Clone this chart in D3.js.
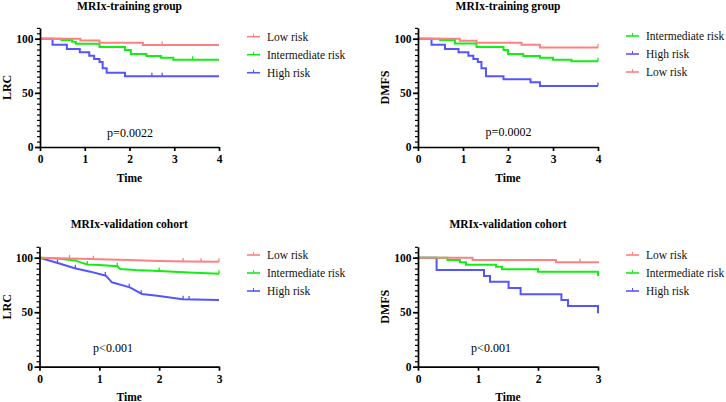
<!DOCTYPE html>
<html>
<head>
<meta charset="utf-8">
<script src="https://cdn.jsdelivr.net/npm/d3@7"></script>
<style>
  html, body { margin: 0; padding: 0; background: #fff; }
  svg { display: block; }
</style>
</head>
<body>
<div id="chart"></div>
<script>
// ---- data: [time, percent] step points ----
const lrcTrainLow  = [[0,100],[0.9,98.3],[1.33,96.3],[2.3,94.3],[4,94.3]];
const lrcTrainMid  = [[0,100],[0.48,98.8],[0.72,97.3],[0.8,95.4],[1.33,92.3],[1.9,89.6],[2.03,85.9],[2.38,84],[2.7,82.5],[2.98,80.6],[4,80.6]];
const lrcTrainHigh = [[0,100],[0.28,94.5],[0.6,90.5],[0.89,87.4],[1.1,84.3],[1.21,81.2],[1.33,78.5],[1.4,72.7],[1.49,68.6],[1.9,65.3],[4,65.3]];
const lrcTrainCens = { low: [2.73], mid: [3.41], high: [2.5, 2.73] };

const dmfsTrainLow  = [[0,100],[0.93,98.1],[1.3,96.3],[2.3,94.5],[2.71,92],[4,92]];
const dmfsTrainMid  = [[0,100],[0.49,98.8],[0.82,95.5],[1.3,92.3],[1.9,89.5],[2.0,86],[2.34,84],[2.71,82.5],[3.0,80.6],[3.41,79.1],[4,79.1]];
const dmfsTrainHigh = [[0,100],[0.3,94.5],[0.6,90.5],[0.9,87.4],[1.12,84.3],[1.23,81.2],[1.33,78.5],[1.41,72.7],[1.51,65.3],[1.9,62.5],[2.5,59.7],[2.71,56.3],[4,56.3]];
const dmfsTrainCens = { low: [4], mid: [4], high: [4] };

const lrcValLow  = [[0,100],[0.5,99.3],[1,98.5],[1.5,97.8],[2,97],[2.5,96.5],[3,96.2]];
const lrcValMid  = [[0,100],[0.3,99.3],[0.6,97.5],[0.7,95.5],[0.8,93.8],[1.0,93.2],[1.3,92.2],[1.35,89.6],[1.6,88.7],[2.0,87.8],[2.5,86.4],[3,85.2]];
const lrcValHigh = [[0,100],[0.29,95.4],[0.59,90.3],[0.85,87.2],[1.11,83.5],[1.21,77.4],[1.51,72.8],[1.71,66.7],[2.0,64.9],[2.39,61.8],[3,61.2]];
const lrcValCens = { low: [0.5, 0.9, 2.4, 2.7, 3], mid: [0.8, 1.3, 2.0, 3], high: [0.3, 0.6, 1.1, 1.5, 1.7, 2.4, 2.5] };

const dmfsValLow  = [[0,100],[0.91,97.9],[2.3,95.8],[3,94.9]];
const dmfsValMid  = [[0,100],[0.49,97.9],[0.7,95.8],[0.8,93.6],[1.3,91.7],[1.4,89.3],[2.0,87.2],[3,83.2]];
const dmfsValHigh = [[0,100],[0.31,88.7],[1.1,83.2],[1.2,78],[1.51,72.2],[1.71,66.4],[2.39,61.2],[2.5,55.7],[3,49]];
const dmfsValCens = { low: [2.7], mid: [], high: [] };

const groupNames = { low: "Low risk", mid: "Intermediate risk", high: "High risk" };
const yTicks = [0, 50, 100];
const titles = ["MRIx-training group", "MRIx-training group", "MRIx-validation cohort", "MRIx-validation cohort"];
const yLabels = ["LRC", "DMFS", "LRC", "DMFS"];
const pValues = ["p=0.0022", "p=0.0002", "p<0.001", "p<0.001"];

const colors = { low: "#ff8080", mid: "#11ee11", high: "#5555ff" };
const serif = "'Liberation Serif', 'Times New Roman', serif";

const panels = [
  { x0: 40, x1: 219, y0: 147, yTop: 27.9, xMax: 4, curves: { low: lrcTrainLow, mid: lrcTrainMid, high: lrcTrainHigh }, cens: lrcTrainCens,
    order: ["low", "mid", "high"], legX: 247, legY: 36.7, titleY: 9.5, pX: 130, pY: 136.5, step: true },
  { x0: 418, x1: 598, y0: 147, yTop: 27.9, xMax: 4, curves: { low: dmfsTrainLow, mid: dmfsTrainMid, high: dmfsTrainHigh }, cens: dmfsTrainCens,
    order: ["mid", "high", "low"], legX: 626, legY: 36, titleY: 9.5, pX: 508.5, pY: 136, step: true },
  { x0: 39.5, x1: 219, y0: 366.7, yTop: 246.8, xMax: 3, curves: { low: lrcValLow, mid: lrcValMid, high: lrcValHigh }, cens: lrcValCens,
    order: ["low", "mid", "high"], legX: 247, legY: 255, titleY: 228, pX: 113, pY: 352, step: false },
  { x0: 418, x1: 598, y0: 366.7, yTop: 246.8, xMax: 3, curves: { low: dmfsValLow, mid: dmfsValMid, high: dmfsValHigh }, cens: dmfsValCens,
    order: ["low", "mid", "high"], legX: 626, legY: 255, titleY: 228, pX: 491, pY: 352, step: true }
];

const svg = d3.select("#chart").append("svg")
  .attr("width", 726)
  .attr("height", 402);

panels.forEach((p, i) => {
  const x = d3.scaleLinear().domain([0, p.xMax]).range([p.x0, p.x1]);
  const y = d3.scaleLinear().domain([0, 110]).range([p.y0, p.yTop]);
  const g = svg.append("g");

  // curves: high first, low on top
  const line = d3.line()
    .x(d => x(d[0]))
    .y(d => y(d[1]))
    .curve(p.step ? d3.curveStepAfter : d3.curveLinear);

  ["high", "mid", "low"].forEach(k => {
    const pts = p.curves[k];
    g.append("path")
      .datum(pts)
      .attr("fill", "none")
      .attr("stroke", colors[k])
      .attr("stroke-width", 2)
      .attr("d", line);

    // censor marks sit on the curve
    const valAt = t => {
      if (p.step) {
        let v = pts[0][1];
        for (const d of pts) { if (d[0] <= t) v = d[1]; }
        return v;
      }
      for (let j = 1; j < pts.length; j++) {
        if (t <= pts[j][0]) {
          const a = pts[j - 1], b = pts[j];
          return a[1] + (b[1] - a[1]) * (t - a[0]) / (b[0] - a[0]);
        }
      }
      return pts[pts.length - 1][1];
    };
    g.selectAll(null)
      .data(p.cens[k])
      .enter()
      .append("line")
      .attr("x1", d => x(d)).attr("x2", d => x(d))
      .attr("y1", d => y(valAt(d)))
      .attr("y2", d => y(valAt(d)) - 3.5)
      .attr("stroke", colors[k])
      .attr("stroke-width", 1.3);
  });

  // axes
  const yMinor = g.append("g")
    .attr("transform", `translate(${p.x0},0)`)
    .call(d3.axisLeft(y).tickValues(d3.range(0, 111, 5)).tickSize(3).tickSizeOuter(0).tickFormat(""));
  yMinor.select(".domain").remove();

  const yAxis = g.append("g")
    .attr("transform", `translate(${p.x0},0)`)
    .call(d3.axisLeft(y).tickValues(yTicks).tickSize(5).tickSizeOuter(0).tickPadding(1.5));

  const xAxis = g.append("g")
    .attr("transform", `translate(0,${p.y0})`)
    .call(d3.axisBottom(x).tickValues(d3.range(0, p.xMax + 1)).tickFormat(d3.format("d"))
      .tickSize(4).tickSizeOuter(0).tickPadding(4));

  [yMinor, yAxis, xAxis].forEach(a => {
    a.selectAll("path, line").attr("stroke", "#000").attr("stroke-width", 1.7);
    a.selectAll("text")
      .style("font-family", serif)
      .style("font-size", "11.5px")
      .style("font-weight", "bold")
      .attr("fill", "#000");
  });
  yMinor.selectAll("line").attr("stroke-width", 1.2);

  // title
  g.append("text")
    .attr("x", (p.x0 + p.x1) / 2)
    .attr("y", p.titleY)
    .attr("text-anchor", "middle")
    .style("font-family", serif)
    .style("font-size", "11.5px")
    .style("font-weight", "bold")
    .text(titles[i]);

  // y label
  g.append("text")
    .attr("transform", `translate(${p.x0 - 29},${(p.y0 + p.yTop) / 2}) rotate(-90)`)
    .attr("text-anchor", "middle")
    .style("font-family", serif)
    .style("font-size", "12px")
    .style("font-weight", "bold")
    .text(yLabels[i]);

  // x label
  g.append("text")
    .attr("x", (p.x0 + p.x1) / 2)
    .attr("y", p.y0 + 34.5)
    .attr("text-anchor", "middle")
    .style("font-family", serif)
    .style("font-size", "11.5px")
    .style("font-weight", "bold")
    .text("Time");

  // p value
  g.append("text")
    .attr("x", p.pX)
    .attr("y", p.pY)
    .attr("text-anchor", "middle")
    .style("font-family", serif)
    .style("font-size", "12px")
    .text(pValues[i]);

  // legend
  const leg = g.selectAll(".leg")
    .data(p.order)
    .enter()
    .append("g")
    .attr("transform", (d, j) => `translate(${p.legX},${p.legY + j * 18})`);

  leg.append("line")
    .attr("x1", 0).attr("x2", 13)
    .attr("stroke", d => colors[d])
    .attr("stroke-width", 1.6);
  leg.append("line")
    .attr("x1", 6.5).attr("x2", 6.5)
    .attr("y1", 0).attr("y2", -3)
    .attr("stroke", d => colors[d])
    .attr("stroke-width", 1);
  leg.append("text")
    .attr("x", 20)
    .attr("y", 4)
    .style("font-family", serif)
    .style("font-size", "11.5px")
    .attr("fill", "#111")
    .text(d => groupNames[d]);
});
</script>
</body>
</html>
